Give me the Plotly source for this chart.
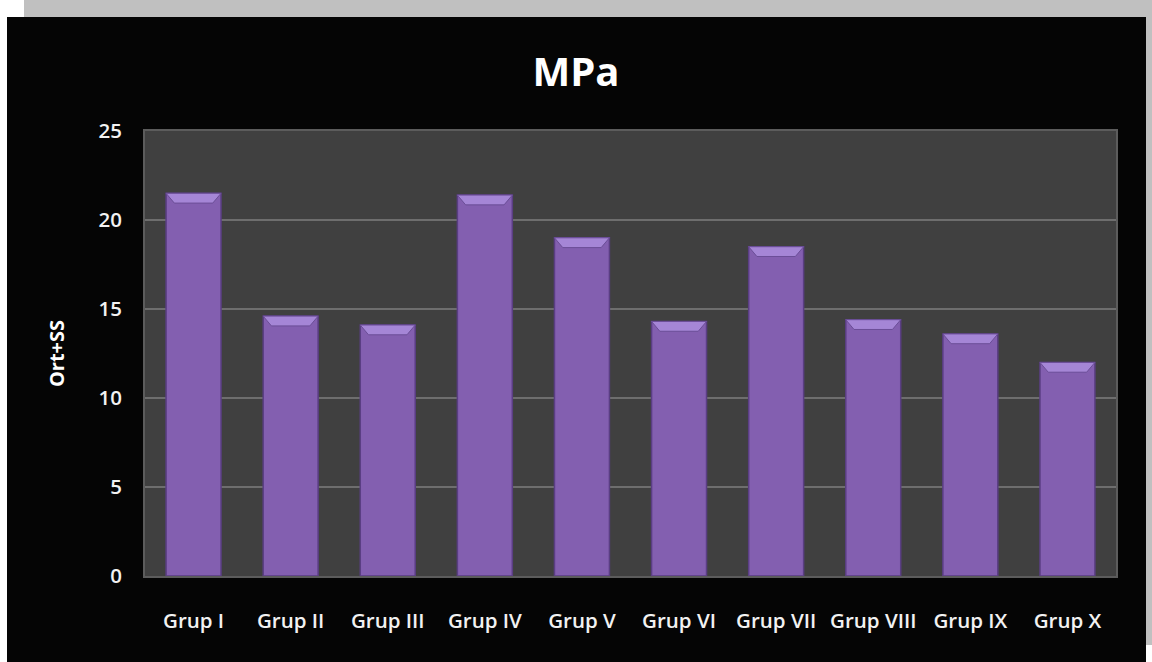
import plotly.graph_objects as go

groups = ["Grup I", "Grup II", "Grup III", "Grup IV", "Grup V",
          "Grup VI", "Grup VII", "Grup VIII", "Grup IX", "Grup X"]
values = [21.5, 14.6, 14.1, 21.4, 19.0, 14.3, 18.5, 14.4, 13.6, 12.0]
y_ticks = [0, 5, 10, 15, 20, 25]

W, H = 1152, 662
ML, MR, MT, MB = 145, 36, 131, 86
BAR_W = 0.566
FONT = "Open Sans"

xs = list(range(len(groups)))

fig = go.Figure()
fig.add_trace(go.Bar(
    x=xs, y=values, width=BAR_W,
    marker=dict(color="#835fb0", line=dict(color="#5a3e83", width=1.5)),
    hoverinfo="x+y",
))

shapes = []
# bevelled top cap on each bar
cap_h = 0.55
inset = 0.085
for x, v in zip(xs, values):
    hw = BAR_W / 2
    path = (f"M {x-hw},{v} L {x+hw},{v} L {x+hw-inset},{v-cap_h} "
            f"L {x-hw+inset},{v-cap_h} Z")
    shapes.append(dict(type="path", path=path, xref="x", yref="y",
                       fillcolor="#a586d6", line=dict(color="#6b4e97", width=1),
                       layer="above"))

# frame around the chart: white left edge, grey top band and right strip
pw = W - ML - MR
ph = H - MT - MB


def px(xp):
    return (xp - ML) / pw


def py(yp):
    return 1 - (yp - MT) / ph


def rect(x0, y0, x1, y1, color):
    return dict(type="rect", xref="paper", yref="paper",
                x0=px(x0), x1=px(x1), y0=py(y0), y1=py(y1),
                fillcolor=color, line=dict(width=0), layer="above")


shapes += [
    rect(0, 0, 7, H, "#ffffff"),
    rect(7, 0, 24, 17, "#ffffff"),
    rect(24, 0, W, 17, "#c0c0c0"),
    rect(1146, 17, W, 645, "#c0c0c0"),
    rect(1146, 645, W, H, "#ffffff"),
]

tick_font = dict(family=FONT, size=20.5, color="#f2f2f2", weight=600)

fig.update_layout(
    width=W, height=H,
    margin=dict(l=ML, r=MR, t=MT, b=MB),
    paper_bgcolor="#050505",
    plot_bgcolor="#404040",
    showlegend=False,
    bargap=0.43,
    title=dict(text="<b>MPa</b>", x=0.5, xref="container", xanchor="center",
               y=1 - 72 / H, yanchor="middle",
               font=dict(family=FONT, size=40, color="#ffffff")),
    font=dict(family=FONT, color="#ffffff"),
    shapes=shapes,
    xaxis=dict(
        range=[-0.5, len(groups) - 0.5],
        tickvals=xs, ticktext=groups,
        tickfont=tick_font,
        showgrid=False, zeroline=False,
        showline=True, linecolor="#5c5c5c", linewidth=2, mirror=True,
        ticks="", ticklabelstandoff=25,
    ),
    yaxis=dict(
        range=[0, 25], tickvals=y_ticks,
        tickfont=tick_font,
        showgrid=True, gridcolor="#6e6e6e", gridwidth=2,
        zeroline=False,
        showline=True, linecolor="#5c5c5c", linewidth=2, mirror=True,
        ticks="", ticklabelstandoff=17,
        title=dict(text="<b>Ort+SS</b>", standoff=28,
                   font=dict(family=FONT, size=20, color="#ffffff")),
    ),
)

fig.write_html("out.html")
